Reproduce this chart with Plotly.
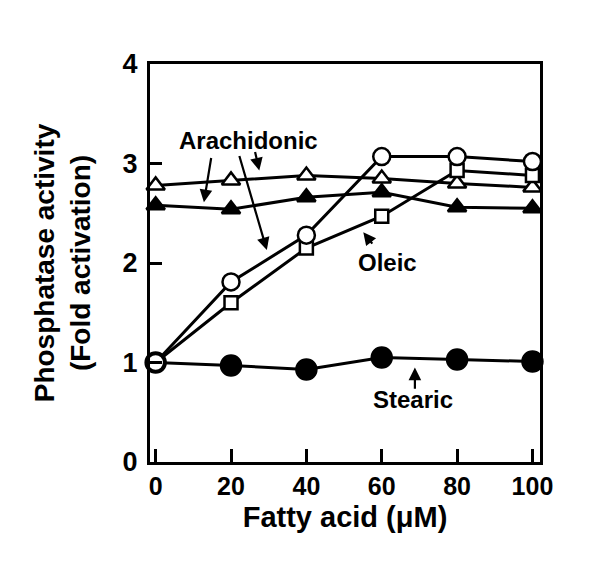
import plotly.graph_objects as go

# fatty acid concentration (uM)
conc = [0, 20, 40, 60, 80, 100]

# fold activation
stearic = [1.00, 0.97, 0.93, 1.05, 1.03, 1.01]
arach_open = [2.78, 2.83, 2.88, 2.85, 2.80, 2.76]
arach_filled = [2.58, 2.54, 2.66, 2.71, 2.56, 2.55]
oleic = [1.00, 1.60, 2.15, 2.47, 2.93, 2.88]
circles_open = [1.00, 1.81, 2.28, 3.07, 3.07, 3.02]

FONT = "Liberation Sans, Arial, Helvetica, sans-serif"

fig = go.Figure()


def add_series(y, symbol, size, fill):
    fig.add_trace(go.Scatter(
        x=conc, y=y, mode='lines+markers',
        line=dict(color='black', width=3),
        marker=dict(symbol=symbol, size=size, color=fill,
                    line=dict(color='black', width=2.5)),
        showlegend=False, cliponaxis=False))


add_series(stearic, 'circle', 20, 'black')
add_series(arach_filled, 'triangle-up', 16, 'black')
add_series(arach_open, 'triangle-up', 16, 'white')
add_series(oleic, 'square', 13, 'white')
add_series(circles_open, 'circle', 17, 'white')

# label text and arrows (tail -> tip) in data units
labels = [('Arachidonic', 24.6, 3.23), ('Oleic', 61.5, 2.01), ('Stearic', 68.3, 0.63)]
arrows = [
    (14.8, 3.07, 12.8, 2.61),
    (22.1, 3.09, 29.5, 2.13),
    (26.3, 3.13, 27.5, 2.93),
    (57.8, 2.18, 55.1, 2.31),
    (68.8, 0.72, 68.8, 0.95),
]

for text, x, y in labels:
    fig.add_annotation(x=x, y=y, text=text, showarrow=False,
                       font=dict(family=FONT, size=24, color='black', weight='bold'))

for x0, y0, x1, y1 in arrows:
    fig.add_annotation(x=x1, y=y1, ax=x0, ay=y0, axref='x', ayref='y',
                       text='', showarrow=True, arrowhead=2, arrowsize=1.15,
                       arrowwidth=2.2, arrowcolor='black')

fig.update_layout(
    width=600, height=565,
    margin=dict(l=142, r=68, t=56, b=111),
    plot_bgcolor='white', paper_bgcolor='white',
    font=dict(family=FONT, color='black'),
)
fig.update_xaxes(
    range=[-1.5, 102], tickvals=[0, 20, 40, 60, 80, 100],
    ticks='inside', ticklen=13, tickwidth=3, tickcolor='black',
    showline=True, linewidth=3, linecolor='black', mirror=True,
    showgrid=False, zeroline=False,
    tickfont=dict(family=FONT, size=25, weight='bold'),
    title=dict(text='Fatty acid (μM)', standoff=8,
               font=dict(family=FONT, size=29, weight='bold')),
)
fig.update_yaxes(
    range=[0, 4], tickvals=[0, 1, 2, 3, 4],
    ticks='inside', ticklen=12, tickwidth=3, tickcolor='black',
    showline=True, linewidth=3, linecolor='black', mirror=True,
    showgrid=False, zeroline=False, ticklabelstandoff=4,
    tickfont=dict(family=FONT, size=27, weight='bold'),
    title=dict(text='Phosphatase activity<br>(Fold activation)', standoff=24,
               font=dict(family=FONT, size=28, weight='bold')),
)

fig.write_html("out.html")
